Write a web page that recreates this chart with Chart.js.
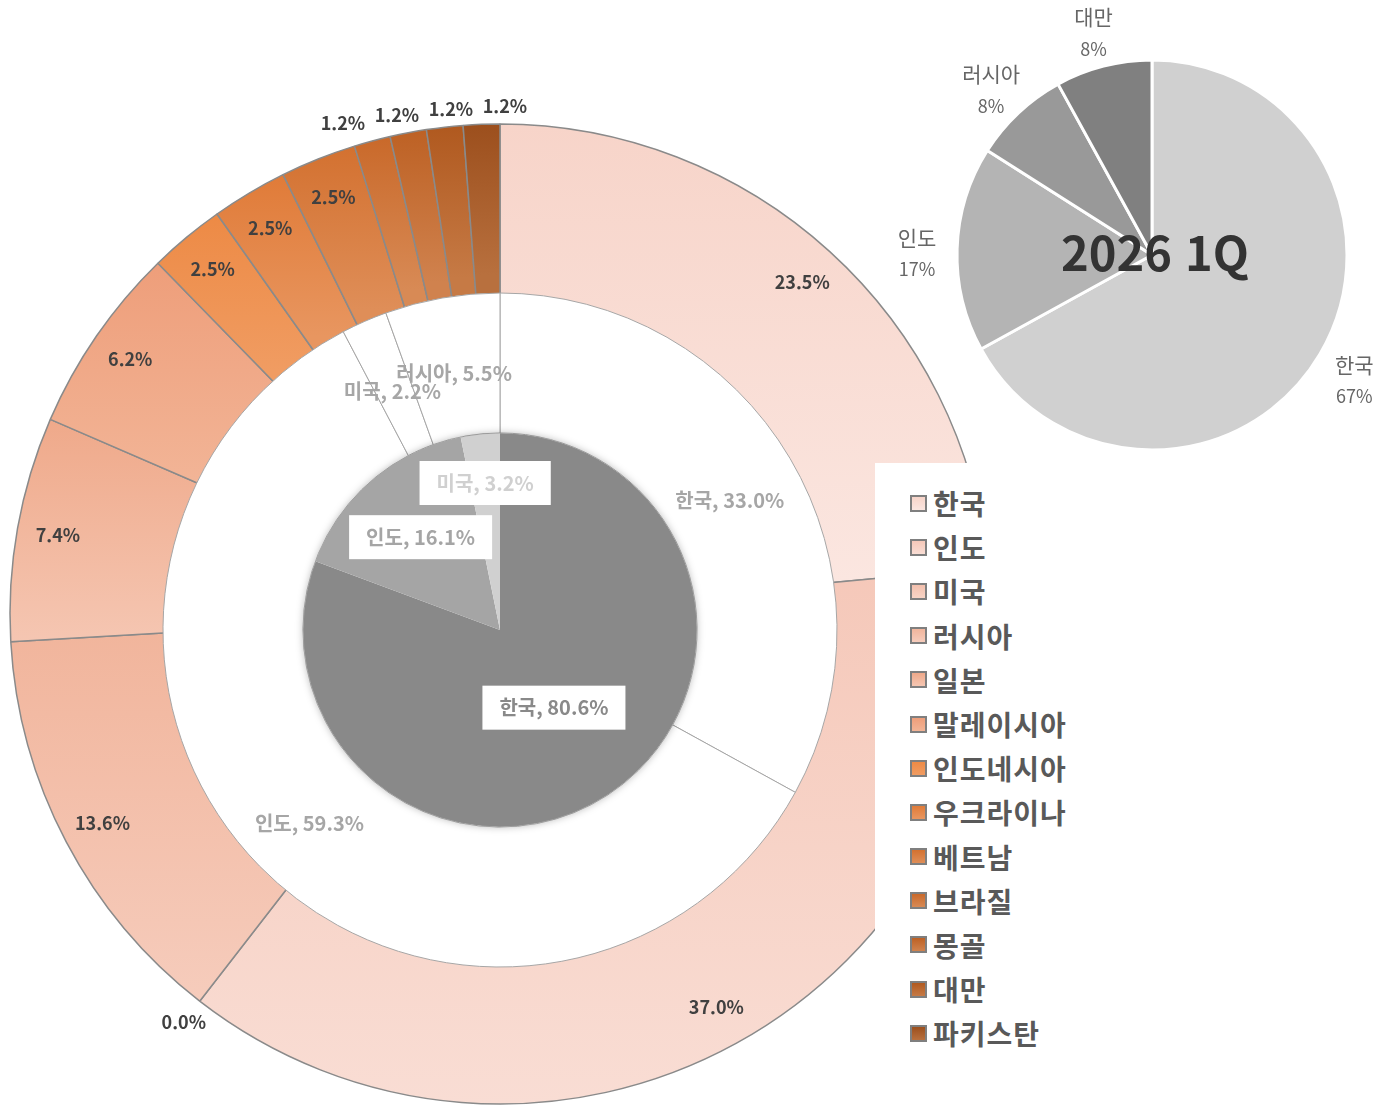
<!DOCTYPE html>
<html lang="ko">
<head>
<meta charset="utf-8">
<script src="https://cdn.jsdelivr.net/npm/chart.js@4.4.1/dist/chart.umd.min.js"></script>
<style>
  html, body { margin: 0; padding: 0; background: #fff; width: 1380px; height: 1106px; overflow: hidden; }
  canvas { position: absolute; }
  #cOuter { left: -50px; top: 64px; }
  #cInner { left: 120px; top: 250px; }
  #cSmall { left: 892px; top: -5px; }
  #legend { position: absolute; left: 875px; top: 463px; width: 505px; height: 610px; background: #fff; padding-top: 18px; box-sizing: border-box; }
  .item { height: 44.2px; display: flex; align-items: center; padding-left: 35px; font: bold 28px "Noto Sans CJK KR", sans-serif; letter-spacing: 1px; color: #595959; }
  .mk { width: 13px; height: 13px; border: 2px solid #7f7f7f; margin-right: 6px; }
</style>
</head>
<body>
<canvas id="cOuter" width="1100" height="1100"></canvas>
<canvas id="cInner" width="760" height="760"></canvas>
<canvas id="cSmall" width="520" height="520"></canvas>
<div id="legend"></div>
<script>
// 바깥 링 (국가별)
const outerLabels = ["한국", "인도", "미국", "러시아", "일본", "말레이시아", "인도네시아", "우크라이나", "베트남", "브라질", "몽골", "대만", "파키스탄"];
const outerValues = [23.5, 37.0, 0.0, 13.6, 7.4, 6.2, 2.5, 2.5, 2.5, 1.2, 1.2, 1.2, 1.2];
// 가운데 링
const middleLabels = ["한국", "인도", "미국", "러시아"];
const middleValues = [33.0, 59.3, 2.2, 5.5];
// 안쪽 파이
const innerLabels = ["한국", "인도", "미국"];
const innerValues = [80.6, 16.1, 3.2];
// 오른쪽 위 작은 파이
const smallLabels = ["한국", "인도", "러시아", "대만"];
const smallValues = [67, 17, 8, 8];
const smallTitle = "2026 1Q";

const outerTop = ["#f7d4c9", "#f5c8b9", "#f3c0ad", "#f1b59c", "#efa98a", "#ee9e7a", "#ed8a45", "#e07b38", "#d37130", "#c9692a", "#bd6124", "#b0591f", "#9c4f1d"];
const outerBottom = ["#fbe6e0", "#f9ddd4", "#f8d4c6", "#f6ccbc", "#f5c6b2", "#f2b496", "#f09c62", "#e89660", "#df8e58", "#d88a55", "#d0824e", "#c67a45", "#b8703e"];
const innerColors = ["#898989", "#a5a5a5", "#d0d0d0"];
const smallColors = ["#d0d0d0", "#b4b4b4", "#999999", "#808080"];

const KR = '"Noto Sans CJK KR", sans-serif';
Chart.defaults.animation = false;
Chart.defaults.plugins.legend.display = false;
Chart.defaults.plugins.tooltip.enabled = false;

function arcGradient(c) {
  const i = c.dataIndex;
  const el = c.element;
  if (!el || el.outerRadius === undefined) return outerTop[i];
  const { y, startAngle, endAngle, outerRadius } = el;
  let ymin = Infinity, ymax = -Infinity;
  for (let k = 0; k <= 30; k++) {
    const a = startAngle + (endAngle - startAngle) * k / 30;
    for (const r of [340, outerRadius]) {
      const py = y + Math.sin(a) * r;
      ymin = Math.min(ymin, py);
      ymax = Math.max(ymax, py);
    }
  }
  if (ymax - ymin < 1) return outerTop[i];
  const g = c.chart.ctx.createLinearGradient(0, ymin, 0, ymax);
  g.addColorStop(0, outerTop[i]);
  g.addColorStop(1, outerBottom[i]);
  return g;
}

const outerLabelPlugin = {
  id: "outerLabels",
  afterDatasetsDraw(chart) {
    const ctx = chart.ctx;
    const meta = chart.getDatasetMeta(0);
    const pos = meta.data.map((arc, i) => {
      const mid = (arc.startAngle + arc.endAngle) / 2;
      const v = outerValues[i];
      const r = v < 2 ? arc.outerRadius + (v === 0 ? 26 : 18) : arc.outerRadius - 41;
      return { x: arc.x + Math.cos(mid) * r, y: arc.y + Math.sin(mid) * r, crowd: v > 0 && v < 2, i };
    });
    // 작은 값 라벨은 겹치지 않게 벌려준다
    const crowd = pos.filter(q => q.crowd);
    if (crowd.length > 1) {
      const mean = crowd.reduce((s, q) => s + q.x, 0) / crowd.length;
      crowd.forEach((q, k) => { q.x = mean + (k - (crowd.length - 1) / 2) * 54; });
    }
    ctx.save();
    ctx.font = "bold 18px " + KR;
    ctx.fillStyle = "#404040";
    ctx.textAlign = "center";
    ctx.textBaseline = "middle";
    pos.forEach(q => ctx.fillText(outerValues[q.i].toFixed(1) + "%", q.x, q.y));
    ctx.restore();
  }
};

const chartOuter = new Chart(document.getElementById("cOuter"), {
  type: "doughnut",
  data: {
    labels: outerLabels,
    datasets: [{
      data: outerValues,
      backgroundColor: arcGradient,
      borderColor: "#8a8a8a",
      borderWidth: 1.5
    }]
  },
  options: {
    responsive: false,
    radius: 490,
    cutout: "60%"
  },
  plugins: [outerLabelPlugin]
});
chartOuter.update("none"); // 두 번째 업데이트에서 그라디언트 적용

const innerLabelPlugin = {
  id: "innerLabels",
  afterDatasetsDraw(chart) {
    const ctx = chart.ctx;
    const ring = chart.getDatasetMeta(0);
    const pie = chart.getDatasetMeta(1);
    const p0 = pie.data[0];

    // 파이 바깥 그림자
    ctx.save();
    ctx.beginPath();
    ctx.rect(0, 0, chart.width, chart.height);
    ctx.arc(p0.x, p0.y, p0.outerRadius, 0, Math.PI * 2);
    ctx.clip("evenodd");
    ctx.beginPath();
    ctx.arc(p0.x, p0.y, p0.outerRadius - 1, 0, Math.PI * 2);
    ctx.shadowColor = "rgba(0,0,0,0.35)";
    ctx.shadowBlur = 9;
    ctx.fillStyle = "#888";
    ctx.fill();
    ctx.restore();

    ctx.save();
    ctx.textAlign = "center";
    ctx.textBaseline = "middle";
    ctx.font = "bold 20px " + KR;
    ctx.fillStyle = "#a6a6a6";
    ring.data.forEach((arc, i) => {
      const mid = (arc.startAngle + arc.endAngle) / 2;
      const r = (arc.innerRadius + arc.outerRadius) / 2;
      ctx.fillText(middleLabels[i] + ", " + middleValues[i].toFixed(1) + "%", arc.x + Math.cos(mid) * r, arc.y + Math.sin(mid) * r + 6);
    });

    const rf = [0.48, 0.62, 0.75];
    pie.data.forEach((arc, i) => {
      const mid = (arc.startAngle + arc.endAngle) / 2;
      const r = arc.outerRadius * rf[i];
      const x = arc.x + Math.cos(mid) * r, y = arc.y + Math.sin(mid) * r;
      const txt = innerLabels[i] + ", " + innerValues[i].toFixed(1) + "%";
      const w = ctx.measureText(txt).width + 34;
      ctx.fillStyle = "#fff";
      ctx.fillRect(x - w / 2, y - 22, w, 44);
      ctx.fillStyle = innerColors[i];
      ctx.fillText(txt, x, y);
    });
    ctx.restore();
  }
};

new Chart(document.getElementById("cInner"), {
  type: "doughnut",
  data: {
    labels: middleLabels,
    datasets: [
      {
        data: middleValues,
        backgroundColor: "#ffffff",
        borderColor: "#a6a6a6",
        borderWidth: 1,
        weight: 140
      },
      {
        data: innerValues,
        backgroundColor: innerColors,
        borderWidth: 0,
        weight: 197
      }
    ]
  },
  options: {
    responsive: false,
    radius: 337,
    cutout: 0
  },
  plugins: [innerLabelPlugin]
});

const smallLabelPlugin = {
  id: "smallLabels",
  afterDatasetsDraw(chart) {
    const ctx = chart.ctx;
    const meta = chart.getDatasetMeta(0);
    ctx.save();
    ctx.textAlign = "center";
    ctx.textBaseline = "middle";
    ctx.fillStyle = "#666666";
    meta.data.forEach((arc, i) => {
      const mid = (arc.startAngle + arc.endAngle) / 2;
      const r = arc.outerRadius + 40;
      const x = arc.x + Math.cos(mid) * r, y = arc.y + Math.sin(mid) * r + 6;
      ctx.font = "21px " + KR;
      ctx.fillText(smallLabels[i], x, y - 16);
      ctx.font = "18px " + KR;
      ctx.fillText(smallValues[i] + "%", x, y + 16);
    });
    const a = meta.data[0];
    ctx.font = "bold 47px " + KR;
    ctx.fillStyle = "#333333";
    ctx.fillText(smallTitle, a.x + 3, a.y - 2);
    ctx.restore();
  }
};

new Chart(document.getElementById("cSmall"), {
  type: "pie",
  data: {
    labels: smallLabels,
    datasets: [{
      data: smallValues,
      backgroundColor: smallColors,
      borderColor: "#ffffff",
      borderWidth: 3
    }]
  },
  options: {
    responsive: false,
    radius: 195
  },
  plugins: [smallLabelPlugin]
});

const legendBox = document.getElementById("legend");
outerLabels.forEach((name, i) => {
  const row = document.createElement("div");
  row.className = "item";
  row.innerHTML = '<span class="mk" style="background:linear-gradient(' + outerTop[i] + ',' + outerBottom[i] + ')"></span><span>' + name + "</span>";
  legendBox.appendChild(row);
});
</script>
</body>
</html>
